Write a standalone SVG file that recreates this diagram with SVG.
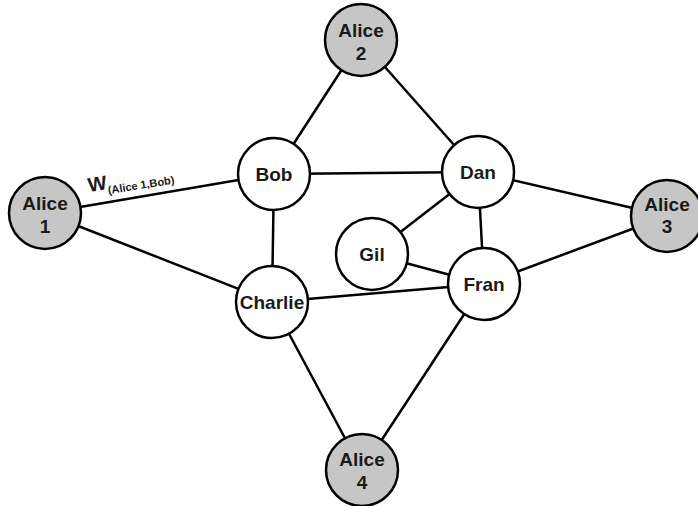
<svg xmlns="http://www.w3.org/2000/svg" width="698" height="506" viewBox="0 0 698 506">
<style>
.n{stroke:#000;stroke-width:2.5;fill:#fff}
.g{fill:#c6c6c6}
.t{font-family:"Liberation Sans",Arial,sans-serif;font-weight:bold;font-size:19px;fill:#1a1a1a;text-anchor:middle}
#edges line{stroke:#000;stroke-width:2.5}
</style>
<rect width="698" height="506" fill="#fff"/>
<g id="edges">
<line x1="361" y1="40" x2="274" y2="174"/>
<line x1="361" y1="40" x2="478" y2="172"/>
<line x1="45" y1="213" x2="274" y2="174"/>
<line x1="45" y1="213" x2="272" y2="302"/>
<line x1="274" y1="174" x2="478" y2="172"/>
<line x1="274" y1="174" x2="272" y2="302"/>
<line x1="478" y1="172" x2="667" y2="216"/>
<line x1="478" y1="172" x2="372" y2="254"/>
<line x1="478" y1="172" x2="484" y2="284"/>
<line x1="372" y1="254" x2="484" y2="284"/>
<line x1="272" y1="302" x2="484" y2="284"/>
<line x1="484" y1="284" x2="667" y2="216"/>
<line x1="272" y1="302" x2="362" y2="470"/>
<line x1="484" y1="284" x2="362" y2="470"/>
</g>
<g id="label">
<text x="89" y="192" font-family="Liberation Sans,Arial,sans-serif" font-weight="bold" font-size="20" fill="#1a1a1a" transform="rotate(-9 89 192)">W<tspan font-size="11" dy="5">(Alice 1,Bob)</tspan></text>
</g>
<g id="alice1"><circle class="n g" cx="45" cy="213" r="36"/><text class="t" x="45" y="210">Alice</text><text class="t" x="45" y="233">1</text></g>
<g id="alice2"><circle class="n g" cx="361" cy="40" r="36"/><text class="t" x="361" y="37">Alice</text><text class="t" x="361" y="60">2</text></g>
<g id="alice3"><circle class="n g" cx="667" cy="216" r="36"/><text class="t" x="667" y="211">Alice</text><text class="t" x="667" y="233">3</text></g>
<g id="alice4"><circle class="n g" cx="362" cy="470" r="36"/><text class="t" x="362" y="466">Alice</text><text class="t" x="362" y="489">4</text></g>
<g id="bob"><circle class="n" cx="274" cy="174" r="36"/><text class="t" x="274" y="181">Bob</text></g>
<g id="dan"><circle class="n" cx="478" cy="172" r="36"/><text class="t" x="478" y="179">Dan</text></g>
<g id="gil"><circle class="n" cx="372" cy="254" r="36"/><text class="t" x="372" y="261">Gil</text></g>
<g id="fran"><circle class="n" cx="484" cy="284" r="36"/><text class="t" x="484" y="291">Fran</text></g>
<g id="charlie"><circle class="n" cx="272" cy="302" r="36"/><text class="t" x="272" y="309">Charlie</text></g>
</svg>
